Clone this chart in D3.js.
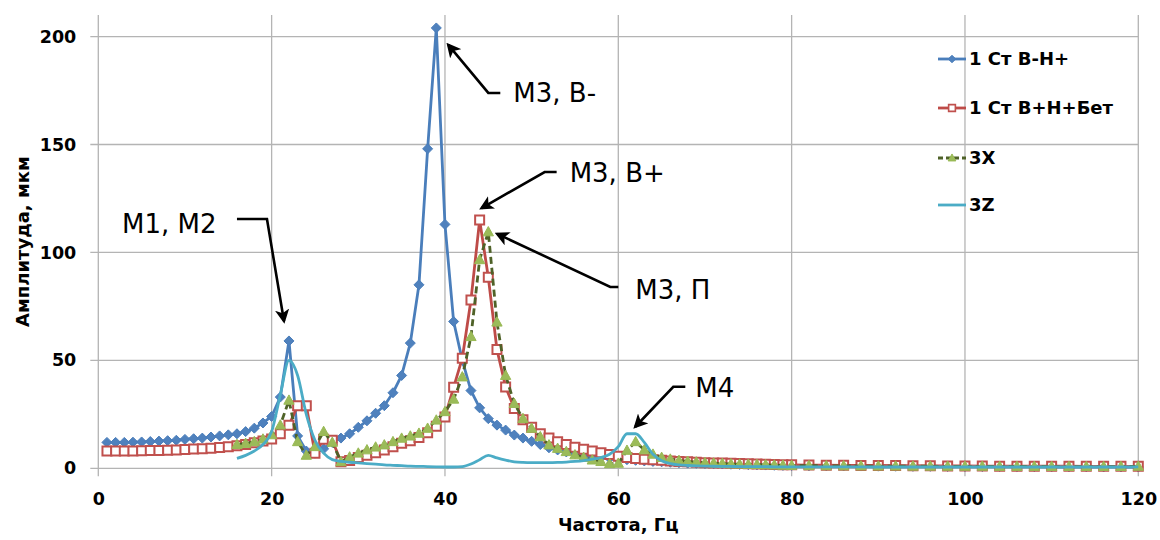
<!DOCTYPE html>
<html>
<head>
<meta charset="utf-8">
<script src="https://cdn.jsdelivr.net/npm/d3@7"></script>
<style>
  html, body { margin: 0; padding: 0; background: #fff; }
  svg { display: block; }
  text { font-family: "DejaVu Sans", sans-serif; fill: #000; }
</style>
</head>
<body>
<svg id="chart" width="1160" height="540"></svg>
<script>
// Frequency grid of the measurements, Hz (1 Hz up to 80, then 2 Hz)
const freqAll = [1,2,3,4,5,6,7,8,9,10,11,12,13,14,15,16,17,18,19,20,
  21,22,23,24,25,26,27,28,29,30,31,32,33,34,35,36,37,38,39,40,
  41,42,43,44,45,46,47,48,49,50,51,52,53,54,55,56,57,58,59,60,
  61,62,63,64,65,66,67,68,69,70,71,72,73,74,75,76,77,78,79,80,
  82,84,86,88,90,92,94,96,98,100,102,104,106,108,110,112,114,116,118,120];
const freqFrom16 = [16,17,18,19,20,
  21,22,23,24,25,26,27,28,29,30,31,32,33,34,35,36,37,38,39,40,
  41,42,43,44,45,46,47,48,49,50,51,52,53,54,55,56,57,58,59,60,
  61,62,63,64,65,66,67,68,69,70,71,72,73,74,75,76,77,78,79,80,
  82,84,86,88,90,92,94,96,98,100,102,104,106,108,110,112,114,116,118,120];

// Amplitudes, µm
const ampStBH = [12,12,12,12.1,12.2,12.4,12.6,12.8,13,13.4,
  13.7,14,14.5,15,15.5,16,17,18.6,21,24,
  33,59,15,8,7,9,12,14,16,19,
  22,25.5,29,35,43,58,85,148,204,113,
  68,50,36,28,23,20,17.7,15.4,14,12.5,
  11,9.5,8.5,7.6,6.8,6.2,5.6,5.1,4.7,4.3,
  4,3.7,3.4,3.2,3,2.8,2.6,2.4,2.3,2.2,
  2.1,2,1.9,1.8,1.7,1.6,1.5,1.4,1.35,1.3,
  1.2,1.15,1.1,1.05,1,0.95,0.9,0.9,0.85,0.85,0.8,0.8,0.75,0.75,0.7,0.7,0.7,0.65,0.65,0.6];
const ampStBHBet = [8,8,8,8,8.1,8.2,8.3,8.4,8.5,8.7,
  8.9,9.1,9.3,9.6,10,10.5,11,11.8,12.6,13.6,
  16,20,29,29,7,13.5,13,3,3.6,5,
  6.1,7.2,8.5,10,11.6,12.8,14.3,16.5,19.5,23.8,
  37.5,51,78,115,88.5,55,37.7,27.7,22.5,19,
  16,14,12.3,11,9.8,8.8,8,7.2,6.4,5.6,
  5,4.5,4.2,4,3.7,3.4,3.2,3,2.8,2.6,
  2.5,2.4,2.3,2.2,2.1,2,1.9,1.8,1.7,1.6,
  1.5,1.45,1.4,1.35,1.3,1.25,1.2,1.15,1.1,1.1,1.05,1,1,1,0.95,0.95,0.9,0.9,0.9,0.9];
const amp3X = [11,11.5,12.3,13.5,15.5,
  20,31.5,12.3,6,10,17,12,3,5.2,7,
  8.5,9.8,10.8,12.3,13.9,14.9,16.2,18.5,22.3,26.2,
  32,42.3,61,96.6,109.5,67.7,43,30,23,18.5,
  14.6,10.8,9.2,7.7,6.2,5,3.8,3.1,2.1,2.3,
  8.3,12.3,8.5,6.5,5,4.2,3.6,3.2,2.9,2.6,
  2.4,2.2,2,1.9,1.8,1.7,1.6,1.5,1.4,1.3,
  1.2,1.15,1.1,1.05,1,1,0.95,0.95,0.9,0.9,0.9,0.85,0.85,0.85,0.8,0.8,0.8,0.8,0.8,0.9];
const amp3Z = [4.6,6,8,11,17,
  34,50,43,25,13,7,4,3.2,2.8,2.5,
  2.2,1.9,1.6,1.4,1.2,1,0.9,0.8,0.7,0.6,
  0.6,0.8,2,4,6,4.8,3.8,3,2.7,2.6,
  2.6,2.6,2.7,2.9,3.2,3.6,4.2,5,6.5,10,
  16,16,12,6.5,3.5,2.2,1.6,1.3,1.1,1,
  0.95,0.9,0.85,0.8,0.8,0.75,0.75,0.7,0.7,0.7,
  0.7,0.65,0.65,0.65,0.6,0.6,0.6,0.6,0.6,0.6,0.6,0.6,0.6,0.6,0.6,0.6,0.6,0.6,0.6,0.7];

const seriesNames = ["1 Ст В-Н+", "1 Ст В+Н+Бет", "3Х", "3Z"];
const xTicks = [0, 20, 40, 60, 80, 100, 120];
const yTicks = [0, 50, 100, 150, 200];

// Peak annotations: label, frequency and amplitude of the marked peak
const noteLabels = ["М1, М2", "М3, В-", "М3, В+", "М3, П", "М4"];
const noteFreq = [22, 39, 44, 45, 61.5];
const noteAmp = [59, 204, 115, 109.5, 16];

const svg = d3.select("#chart");
const m = { left: 98.3, right: 1138.3, top: 15, bottom: 468.3 };

const x = d3.scaleLinear().domain([0, 120]).range([m.left, m.right]);
const y = d3.scaleLinear().domain([0, 210]).range([m.bottom, m.top]);

const gridColor = "#b4b4b4";

// Grid lines (with outside tick marks)
const grid = svg.append("g");
grid.selectAll(".hg").data(yTicks).join("line")
  .attr("x1", m.left - 8).attr("x2", m.right)
  .attr("y1", d => y(d)).attr("y2", d => y(d))
  .attr("stroke", gridColor).attr("stroke-width", 1.3);
grid.selectAll(".vg").data(xTicks).join("line")
  .attr("x1", d => x(d)).attr("x2", d => x(d))
  .attr("y1", m.top).attr("y2", m.bottom + 8)
  .attr("stroke", gridColor).attr("stroke-width", 1.3);

// Axes via d3 axis generators, styled to tick labels only
const yAxis = svg.append("g").attr("transform", `translate(${m.left - 22},0)`)
  .call(d3.axisLeft(y).tickValues(yTicks).tickSize(0).tickPadding(0));
yAxis.select(".domain").remove();
yAxis.selectAll("text").attr("font-size", 17.5).attr("font-weight", "bold")
  .attr("font-family", "DejaVu Sans").attr("fill", "#000");

const xAxis = svg.append("g").attr("transform", `translate(0,${m.bottom + 24})`)
  .call(d3.axisBottom(x).tickValues(xTicks).tickSize(0).tickPadding(0));
xAxis.select(".domain").remove();
xAxis.selectAll("text").attr("font-size", 17.5).attr("font-weight", "bold")
  .attr("font-family", "DejaVu Sans").attr("fill", "#000");

// Axis titles
svg.append("text").attr("x", x(60)).attr("y", 531)
  .attr("text-anchor", "middle").attr("font-size", 18).attr("font-weight", "bold")
  .text("Частота, Гц");
svg.append("text").attr("transform", `translate(29,${(m.top + m.bottom) / 2}) rotate(-90)`)
  .attr("text-anchor", "middle").attr("font-size", 18).attr("font-weight", "bold")
  .text("Амплитуда, мкм");

// Series definitions
const series = [
  { name: seriesNames[0], xs: freqAll, ys: ampStBH, stroke: "#4a7ebb", dash: null, marker: "diamond", mFill: "#4f81bd", mStroke: "#4a7ebb", curve: d3.curveLinear },
  { name: seriesNames[1], xs: freqAll, ys: ampStBHBet, stroke: "#be4b48", dash: null, marker: "square", mFill: "#ffffff", mStroke: "#c0504d", curve: d3.curveLinear },
  { name: seriesNames[2], xs: freqFrom16, ys: amp3X, stroke: "#4f6228", dash: "7,4", marker: "triangle", mFill: "#9bbb59", mStroke: "#98b954", curve: d3.curveLinear },
  { name: seriesNames[3], xs: freqFrom16, ys: amp3Z, stroke: "#4bacc6", dash: null, marker: null, curve: d3.curveMonotoneX }
];

function markerPath(type, s) {
  if (type === "diamond") return `M0,${-s}L${s},0L0,${s}L${-s},0Z`;
  if (type === "square") return `M${-s},${-s}H${s}V${s}H${-s}Z`;
  if (type === "triangle") return `M0,${-s * 1.1}L${s * 1.05},${s * 0.8}L${-s * 1.05},${s * 0.8}Z`;
  return "";
}
const markerSize = { diamond: 5, square: 4.5, triangle: 4.9 };

const plot = svg.append("g");
series.forEach(s => {
  const pts = s.xs.map((f, i) => [f, s.ys[i]]);
  const line = d3.line().x(d => x(d[0])).y(d => y(d[1])).curve(s.curve);
  const g = plot.append("g");
  g.append("path").attr("d", line(pts)).attr("fill", "none")
    .attr("stroke", s.stroke).attr("stroke-width", 2.8)
    .attr("stroke-dasharray", s.dash).attr("stroke-linejoin", "round");
  if (s.marker) {
    g.selectAll("path.mk").data(pts).join("path").attr("class", "mk")
      .attr("transform", d => `translate(${x(d[0])},${y(d[1])})`)
      .attr("d", markerPath(s.marker, markerSize[s.marker]))
      .attr("fill", s.mFill).attr("stroke", s.mStroke)
      .attr("stroke-width", s.marker === "square" ? 2 : 1);
  }
});

// Legend
const legendY = [59, 108, 158, 205];
const lg = svg.append("g");
series.forEach((s, i) => {
  const ly = legendY[i];
  lg.append("line").attr("x1", 938).attr("x2", 966).attr("y1", ly).attr("y2", ly)
    .attr("stroke", s.stroke).attr("stroke-width", 2.8).attr("stroke-dasharray", s.dash ? "5,3" : null);
  if (s.marker) {
    lg.append("path").attr("transform", `translate(952,${ly})`)
      .attr("d", markerPath(s.marker, markerSize[s.marker] * 0.75))
      .attr("fill", s.mFill).attr("stroke", s.mStroke)
      .attr("stroke-width", s.marker === "square" ? 1.6 : 1);
  }
  lg.append("text").attr("x", 969).attr("y", ly).attr("dy", "0.36em")
    .attr("font-size", 18).attr("font-weight", "bold").text(s.name);
});

// Annotation arrows
const defs = svg.append("defs");
defs.append("marker").attr("id", "arrowhead").attr("viewBox", "0 0 10 10")
  .attr("refX", 8).attr("refY", 5).attr("markerWidth", 5.5).attr("markerHeight", 5.5)
  .attr("orient", "auto").attr("markerUnits", "strokeWidth")
  .append("path").attr("d", "M0,0L10,5L0,10L2.5,5Z").attr("fill", "#000");

// Each note: label offset from the peak (px) and the leader line's points
const notes = [
  { label: noteLabels[0], tx: -167, ty: -117, path: [[-52, -122], [-22, -122], [-5, -20]] },
  { label: noteLabels[1], tx: 77, ty: 65, path: [[64, 65], [52, 65], [12, 17]] },
  { label: noteLabels[2], tx: 90, ty: -47, path: [[77, -48], [65, -48], [2, -12]] },
  { label: noteLabels[3], tx: 147, ty: 58, path: [[130, 55], [122, 55], [9, 2]] },
  { label: noteLabels[4], tx: 64, ty: -46, path: [[54, -47], [42, -47], [4, -7]] }
];
const ann = svg.append("g");
notes.forEach((n, i) => {
  const px = x(noteFreq[i]), py = y(noteAmp[i]);
  ann.append("polyline")
    .attr("points", n.path.map(p => `${px + p[0]},${py + p[1]}`).join(" "))
    .attr("fill", "none").attr("stroke", "#000").attr("stroke-width", 2.6)
    .attr("stroke-linejoin", "miter").attr("marker-end", "url(#arrowhead)");
  ann.append("text").attr("x", px + n.tx).attr("y", py + n.ty).attr("dy", "0.36em")
    .attr("font-size", 26).text(n.label);
});
</script>
</body>
</html>
